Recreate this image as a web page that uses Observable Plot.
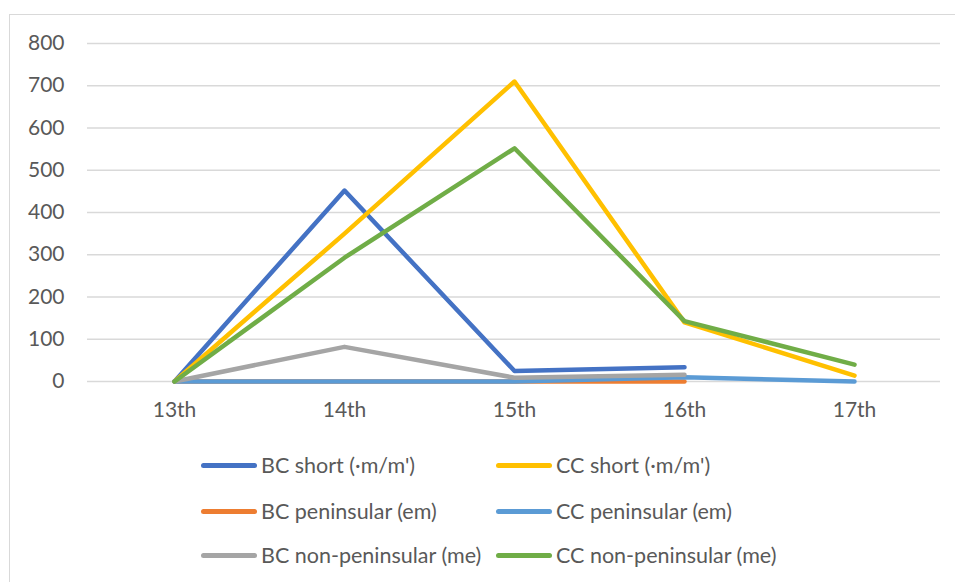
<!DOCTYPE html>
<html>
<head>
<meta charset="utf-8">
<script src="https://cdn.jsdelivr.net/npm/d3@7"></script>
<script src="https://cdn.jsdelivr.net/npm/@observablehq/plot@0.6"></script>
<style>
  html, body { margin: 0; padding: 0; background: #fff; }
  body { width: 955px; height: 582px; overflow: hidden; position: relative; font-family: Lato, "Open Sans", sans-serif; }
  #frame { position: absolute; left: 9px; top: 14px; width: 960px; height: 600px; border-left: 1.5px solid #d9d9d9; border-top: 1.5px solid #d9d9d9; }
  #chart { position: absolute; left: 0; top: 0; }
  #legend { position: absolute; left: 0; top: 0; width: 955px; height: 582px; pointer-events: none; }
  .item { position: absolute; display: flex; align-items: center; font-size: 21.5px; color: #595959; white-space: nowrap; }
  .swatch { width: 56px; height: 5px; border-radius: 3px; margin-right: 4px; }
</style>
</head>
<body>
<div id="frame"></div>
<div id="chart"></div>
<div id="legend"></div>
<script>
const categories = ["13th", "14th", "15th", "16th", "17th"];
const seriesNames = [
  "BC short (·m/m')",
  "CC short (·m/m')",
  "BC peninsular (em)",
  "CC peninsular (em)",
  "BC non-peninsular (me)",
  "CC non-peninsular (me)"
];
const seriesColors = ["#4472C4", "#FFC000", "#ED7D31", "#5B9BD5", "#A5A5A5", "#70AD47"];
const bcShort = [0, 452, 25, 34, null];
const ccShort = [0, 350, 710, 140, 14];
const bcPeninsular = [0, 0, 0, 0, null];
const ccPeninsular = [0, 0, 0, 10, 0];
const bcNonPeninsular = [0, 82, 9, 16, null];
const ccNonPeninsular = [0, 293, 552, 143, 40];
const yTicks = [0, 100, 200, 300, 400, 500, 600, 700, 800];

const seriesValues = [bcShort, ccShort, bcPeninsular, ccPeninsular, bcNonPeninsular, ccNonPeninsular];
const rows = [];
seriesValues.forEach((vals, i) => {
  vals.forEach((v, j) => {
    if (v !== null) rows.push({series: seriesNames[i], cat: categories[j], value: v});
  });
});

const chart = Plot.plot({
  width: 955,
  height: 426,
  marginLeft: 87,
  marginRight: 15,
  marginTop: 43,
  marginBottom: 45,
  style: {fontFamily: "Lato, 'Open Sans', sans-serif", fontSize: "21px", color: "#595959", background: "transparent"},
  x: {domain: categories, type: "band", padding: 0, label: null, tickSize: 0},
  y: {domain: [0, 800], ticks: yTicks, label: null, tickSize: 0},
  color: {domain: seriesNames, range: seriesColors},
  marks: [
    Plot.gridY(yTicks, {stroke: "#d9d9d9", strokeOpacity: 1, strokeWidth: 1.5}),
    Plot.axisY({ticks: yTicks, tickSize: 0, tickPadding: 23, fontSize: 21, fill: "#595959", label: null}),
    Plot.axisX({tickSize: 0, tickPadding: 21, fontSize: 21, fill: "#595959", label: null}),
    Plot.line(rows, {x: "cat", y: "value", z: "series", stroke: "series", strokeWidth: 4.5, strokeLinecap: "round", strokeLinejoin: "round"})
  ]
});
document.getElementById("chart").appendChild(chart);

const legend = document.getElementById("legend");
const legendPos = [
  [201, 465], [496, 465],
  [201, 511], [496, 511],
  [201, 555], [496, 555]
];
seriesNames.forEach((name, i) => {
  const d = document.createElement("div");
  d.className = "item";
  d.style.left = legendPos[i][0] + "px";
  d.style.top = (legendPos[i][1] - 14) + "px";
  d.style.height = "28px";
  const sw = document.createElement("span");
  sw.className = "swatch";
  sw.style.background = seriesColors[i];
  const t = document.createElement("span");
  t.textContent = name;
  d.appendChild(sw);
  d.appendChild(t);
  legend.appendChild(d);
});
</script>
</body>
</html>
